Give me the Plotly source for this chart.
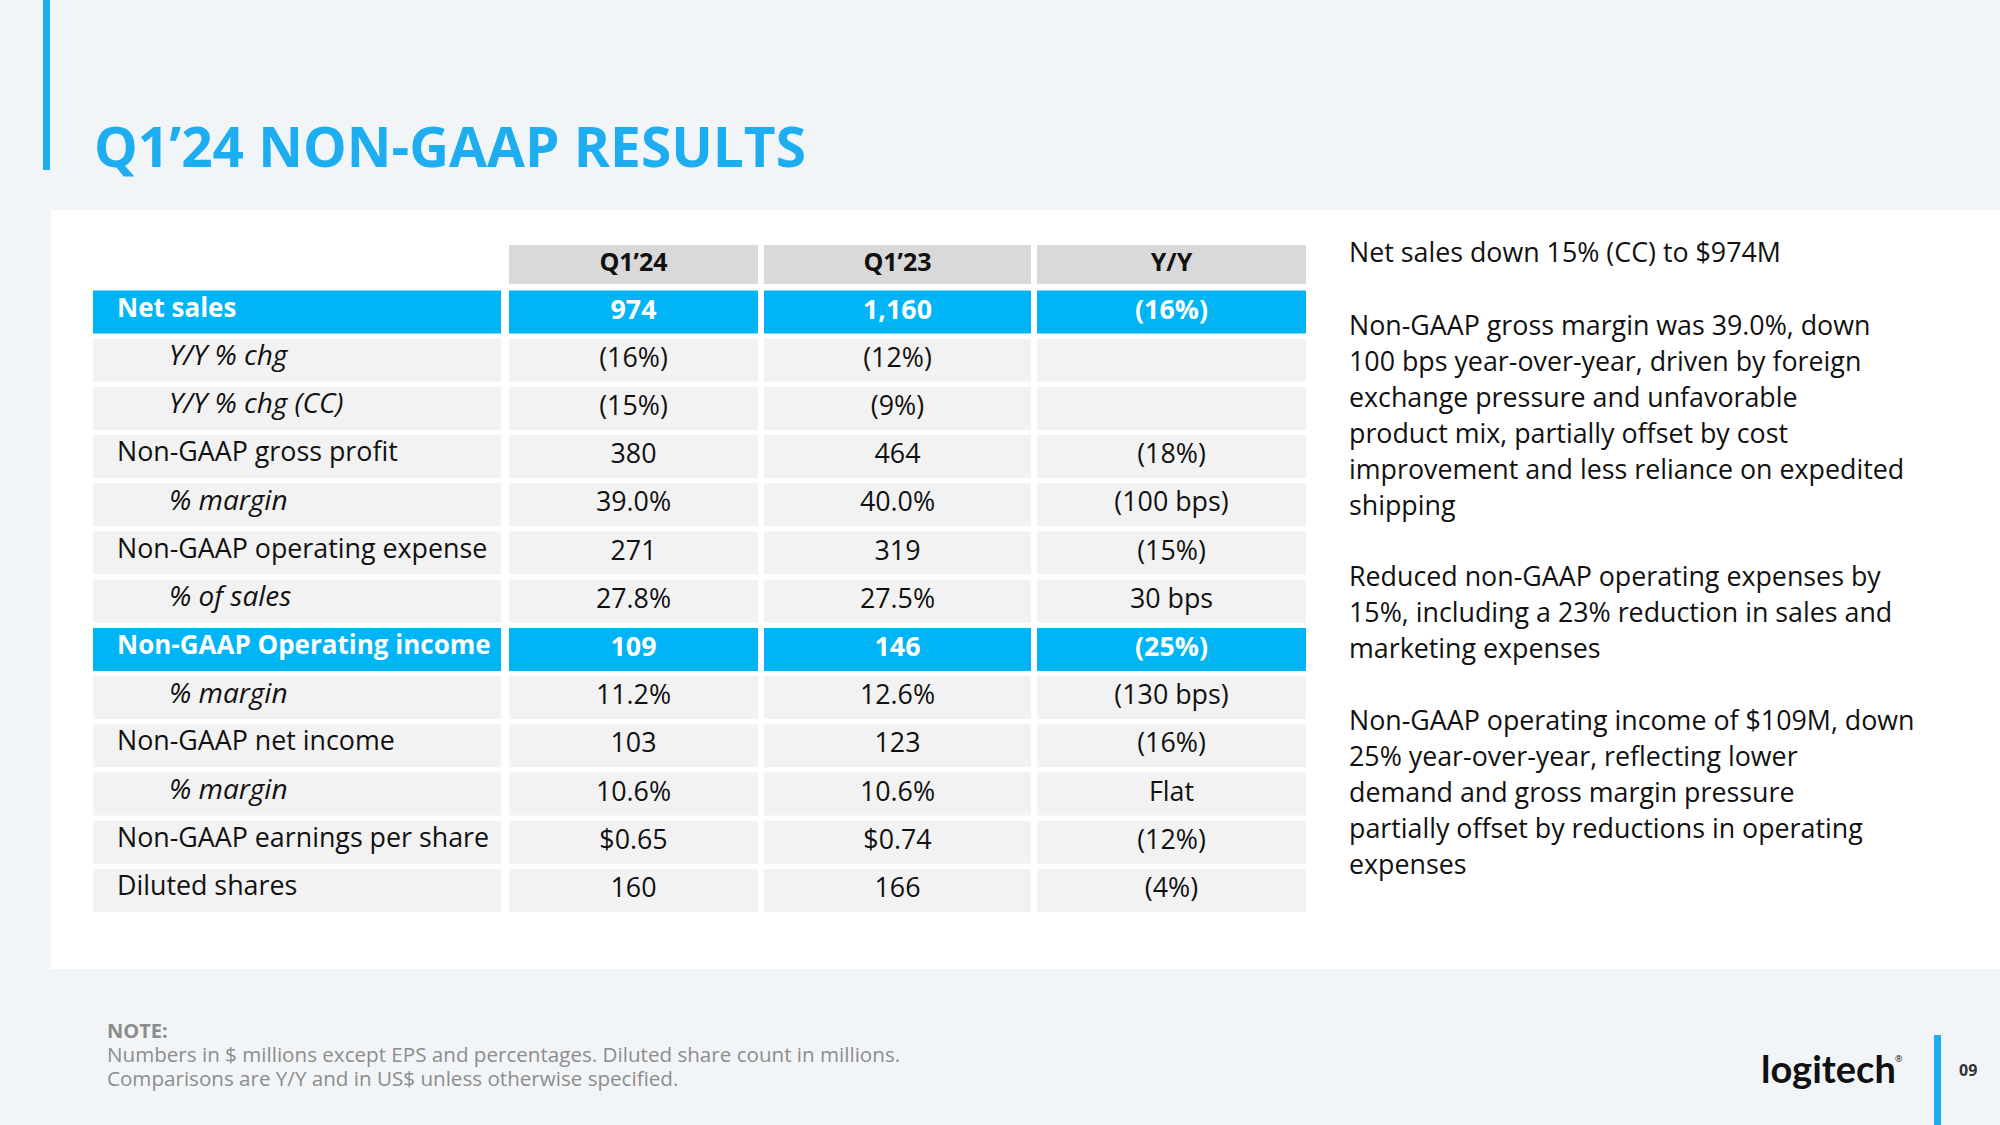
import plotly.graph_objects as go

# ---------------- data ----------------
COLUMNS = ["Q1\u201924", "Q1\u201923", "Y/Y"]
ROW_LABELS = ["Net sales", "Y/Y % chg", "Y/Y % chg (CC)", "Non-GAAP gross profit", "% margin",
              "Non-GAAP operating expense", "% of sales", "Non-GAAP Operating income", "% margin",
              "Non-GAAP net income", "% margin", "Non-GAAP earnings per share", "Diluted shares"]
Q1_24 = ["974", "(16%)", "(15%)", "380", "39.0%", "271", "27.8%", "109", "11.2%", "103", "10.6%", "$0.65", "160"]
Q1_23 = ["1,160", "(12%)", "(9%)", "464", "40.0%", "319", "27.5%", "146", "12.6%", "123", "10.6%", "$0.74", "166"]
YY = ["(16%)", "", "", "(18%)", "(100 bps)", "(15%)", "30 bps", "(25%)", "(130 bps)", "(16%)", "Flat", "(12%)", "(4%)"]
SUB_ROW = [0, 1, 1, 0, 1, 0, 1, 0, 1, 0, 1, 0, 0]
HIGHLIGHT = [1, 0, 0, 0, 0, 0, 0, 1, 0, 0, 0, 0, 0]

TITLE = "Q1\u201924 NON-GAAP RESULTS"
COMMENTARY = [
    ["Net sales down 15% (CC) to $974M"],
    ["Non-GAAP gross margin was 39.0%, down", "100 bps year-over-year, driven by foreign",
     "exchange pressure and unfavorable", "product mix, partially offset by cost",
     "improvement and less reliance on expedited", "shipping"],
    ["Reduced non-GAAP operating expenses by", "15%, including a 23% reduction in sales and",
     "marketing expenses"],
    ["Non-GAAP operating income of $109M, down", "25% year-over-year, reflecting lower",
     "demand and gross margin pressure", "partially offset by reductions in operating", "expenses"],
]
NOTE_TITLE = "NOTE:"
NOTE_LINES = ["Numbers in $ millions except EPS and percentages. Diluted share count in millions.",
              "Comparisons are Y/Y and in US$ unless otherwise specified."]
PAGE_NO = "09"

# ---------------- layout constants (pixels) ----------------
W, H = 2000, 1125
BG = "#F2F5F8"
BLUE_TITLE = "#1FADF2"
BLUE_CELL = "#00B5F6"
GRAY_HEAD = "#D9D9D9"
GRAY_ROW = "#F2F2F2"
FONT = "Open Sans"

COL_L = [93, 509, 764, 1037]
COL_R = [501, 758, 1031, 1306]
HEAD_C, HEAD_H = 264.5, 39
ROW_C0, ROW_PITCH, ROW_H = 312, 48.2, 43
LABEL_X, SUB_X = 117, 169
TXT_SIZE = 26.8
SUB_SIZE = 28
BOLD_SIZE = 26

n = len(ROW_LABELS)
row_c = [ROW_C0 + i * ROW_PITCH for i in range(n)]
row_fill = [BLUE_CELL if h else GRAY_ROW for h in HIGHLIGHT]
txt_col = ["#FFFFFF" if h else "#111111" for h in HIGHLIGHT]

fig = go.Figure()

# header cells
fig.add_trace(go.Bar(
    orientation="h", y=[HEAD_C] * 3, x=[COL_R[k] - COL_L[k] for k in range(1, 4)],
    base=COL_L[1:], width=HEAD_H, marker=dict(color=GRAY_HEAD, line=dict(width=0)),
    hoverinfo="skip", showlegend=False))
# body cells per column
for k in range(4):
    fig.add_trace(go.Bar(
        orientation="h", y=row_c, x=[COL_R[k] - COL_L[k]] * n, base=[COL_L[k]] * n,
        width=ROW_H, marker=dict(color=row_fill, line=dict(width=0)),
        hoverinfo="skip", showlegend=False))

# header text
fig.add_trace(go.Scatter(
    x=[(COL_L[k] + COL_R[k]) / 2 for k in range(1, 4)], y=[HEAD_C] * 3, mode="text",
    text=["<b>%s</b>" % c for c in COLUMNS], textposition="middle center",
    textfont=dict(family=FONT, size=25, color="#111111"), hoverinfo="skip", showlegend=False))

# label text
lab_text, lab_size = [], []
for lbl, s, h in zip(ROW_LABELS, SUB_ROW, HIGHLIGHT):
    t = lbl
    size = TXT_SIZE
    if s:
        t = "<i>%s</i>" % t
        size = SUB_SIZE
    if h:
        t = "<b>%s</b>" % t
        size = BOLD_SIZE
    lab_text.append(t)
    lab_size.append(size)
fig.add_trace(go.Scatter(
    x=[SUB_X if s else LABEL_X for s in SUB_ROW], y=[c - 2 for c in row_c], mode="text",
    text=lab_text, textposition="middle right",
    textfont=dict(family=FONT, size=lab_size, color=txt_col), hoverinfo="skip", showlegend=False))

# value text
for k, vals in zip(range(1, 4), [Q1_24, Q1_23, YY]):
    fig.add_trace(go.Scatter(
        x=[(COL_L[k] + COL_R[k]) / 2] * n, y=row_c, mode="text",
        text=["<b>%s</b>" % v if h else v for v, h in zip(vals, HIGHLIGHT)],
        textposition="middle center",
        textfont=dict(family=FONT, size=TXT_SIZE, color=txt_col), hoverinfo="skip", showlegend=False))

shapes = [
    dict(type="rect", xref="x", yref="y", x0=51, x1=W, y0=210, y1=969,
         fillcolor="#FFFFFF", line=dict(width=0), layer="below"),
    dict(type="rect", xref="x", yref="y", x0=43, x1=50, y0=0, y1=170,
         fillcolor=BLUE_TITLE, line=dict(width=0)),
    dict(type="rect", xref="x", yref="y", x0=1934, x1=1941, y0=1035, y1=H,
         fillcolor=BLUE_TITLE, line=dict(width=0)),
]

ann = []
ann.append(dict(x=92, y=145, xref="x", yref="y", text="<b>%s</b>" % TITLE, showarrow=False,
                xanchor="left", yanchor="middle", font=dict(family=FONT, size=55, color=BLUE_TITLE)))

# commentary text
para_starts = [251, 324, 575, 719]
LINE_GAP = 36
for p, lines in zip(para_starts, COMMENTARY):
    for j, ln in enumerate(lines):
        ann.append(dict(x=1347, y=p + j * LINE_GAP, xref="x", yref="y", text=ln, showarrow=False,
                        xanchor="left", yanchor="middle",
                        font=dict(family=FONT, size=26.8, color="#111111")))

# note
NOTE_COL = "#8C8C8C"
ann.append(dict(x=105, y=1030, xref="x", yref="y", text="<b>%s</b>" % NOTE_TITLE, showarrow=False,
                xanchor="left", yanchor="middle", font=dict(family=FONT, size=20, color=NOTE_COL)))
for j, ln in enumerate(NOTE_LINES):
    ann.append(dict(x=105, y=1054 + j * 24, xref="x", yref="y", text=ln, showarrow=False,
                    xanchor="left", yanchor="middle", font=dict(family=FONT, size=20.6, color=NOTE_COL)))

# logo + page number
ann.append(dict(x=1759, y=1068, xref="x", yref="y", text="<b>logitech</b>", showarrow=False,
                xanchor="left", yanchor="middle",
                font=dict(family="Lato", size=38, color="#111111")))
ann.append(dict(x=1893, y=1058, xref="x", yref="y", text="\u00ae", showarrow=False,
                xanchor="left", yanchor="middle", font=dict(family=FONT, size=9, color="#111111")))
ann.append(dict(x=1968, y=1070, xref="x", yref="y", text="<b>%s</b>" % PAGE_NO, showarrow=False,
                xanchor="center", yanchor="middle", font=dict(family=FONT, size=16, color="#333333")))

fig.update_layout(
    width=W, height=H, margin=dict(l=0, r=0, t=0, b=0),
    paper_bgcolor=BG, plot_bgcolor=BG, barmode="overlay",
    xaxis=dict(range=[0, W], visible=False, fixedrange=True),
    yaxis=dict(range=[H, 0], visible=False, fixedrange=True),
    shapes=shapes, annotations=ann, showlegend=False,
)

fig.write_html("out.html", post_script="document.body.style.margin='0px';",
               config={"displayModeBar": False})
